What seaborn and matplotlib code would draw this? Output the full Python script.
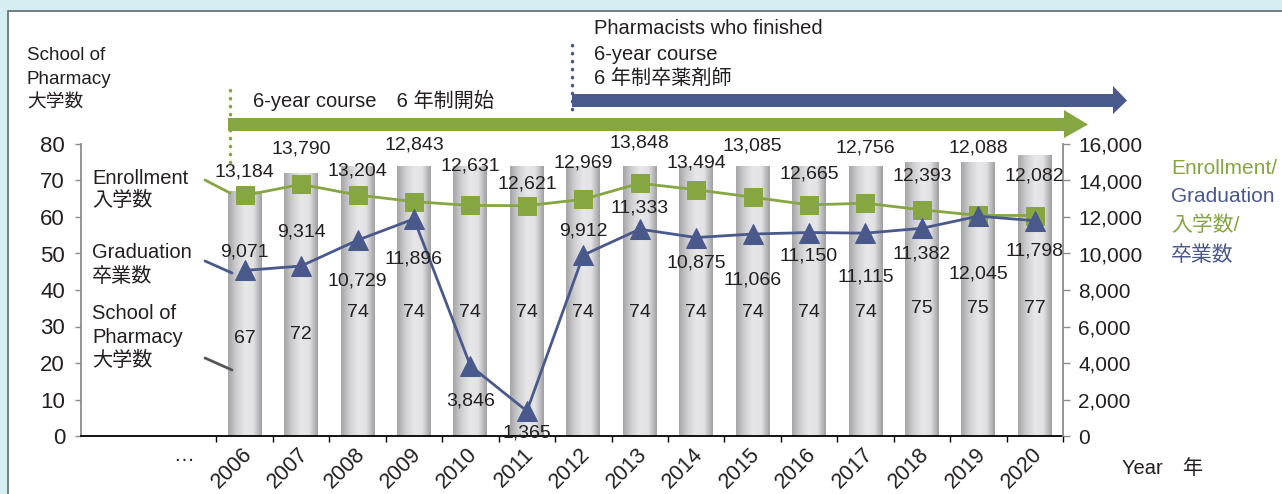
import matplotlib
matplotlib.use("Agg")
import matplotlib.pyplot as plt
import numpy as np
import pandas as pd
import seaborn as sns
from matplotlib.colors import LinearSegmentedColormap
from matplotlib.lines import Line2D
from matplotlib.patches import Polygon, Rectangle
from matplotlib.ticker import FuncFormatter
from matplotlib.transforms import ScaledTranslation

years = [str(y) for y in range(2006, 2021)]
schools = [67, 72, 74, 74, 74, 74, 74, 74, 74, 74, 74, 74, 75, 75, 77]
enrollment = [13184, 13790, 13204, 12843, 12631, 12621, 12969, 13848,
              13494, 13085, 12665, 12756, 12393, 12088, 12082]
graduation = [9071, 9314, 10729, 11896, 3846, 1365, 9912, 11333,
              10875, 11066, 11150, 11115, 11382, 12045, 11798]

# label placement: pixel offsets from the marker (up is positive)
enr_dy = [23, 35, 24, 57, 39, 22, 36, 40, 27, 51, 31, 55, 34, 67, 40]
grad_dy = [18, 34, -41, -40, -35, -22, 24, 21, -25, -46, -23, -44, -26, -58, -30]
school_label_y = [26.8, 27.9] + [33.7] * 10 + [34.8] * 3

GREEN = "#86a642"
BLUE = "#4a598c"
TXT = "#231f20"
GREY = "#8c8c8c"
W, H = 1282, 494


def fx(px):
    return px / W


def fy(py):
    return 1 - py / H


def put(text, x, y, **kw):
    kw.setdefault("fontsize", 14.5)
    kw.setdefault("color", TXT)
    kw.setdefault("va", "center")
    fig.text(fx(x), fy(y), text, **kw)


sns.set_theme(style="ticks")
plt.rcParams["font.family"] = ["Liberation Sans", "Noto Sans CJK JP"]

fig = plt.figure(figsize=(W / 100, H / 100), dpi=100, facecolor="#d4eef2")
fig.add_artist(Rectangle((fx(8), -0.01), 1, fy(11) + 0.01, transform=fig.transFigure,
                         facecolor="white", edgecolor="#5f6b6b", lw=1.2, zorder=0))

ax = fig.add_axes([fx(81), fy(436), fx(1063) - fx(81), fy(144) - fy(436)])
ax.patch.set_alpha(0)

df = pd.DataFrame({"year": years, "schools": schools,
                   "enrollment": enrollment, "graduation": graduation})
idx = np.arange(len(years))

# bars with a cylinder-like grey gradient
sns.barplot(data=df, x="year", y="schools", width=0.6, color="#dcdcde", ax=ax, zorder=2)
cyl = LinearSegmentedColormap.from_list(
    "cyl", ["#a6a6a9", "#cfcfd1", "#e7e7e9", "#e2e2e4", "#a0a0a4"])
grad = np.linspace(0, 1, 64).reshape(1, -1)
for p in ax.patches:
    x0, w, h = p.get_x(), p.get_width(), p.get_height()
    im = ax.imshow(grad, extent=[x0, x0 + w, 0, h], aspect="auto", cmap=cyl,
                   zorder=2, interpolation="bicubic")
    im.set_clip_path(p)
    p.set_facecolor("none")
    p.set_edgecolor("none")

for i, (v, yl) in enumerate(zip(schools, school_label_y)):
    ax.text(i, yl, str(v), ha="center", va="center", fontsize=14, color=TXT, zorder=5)

ax.set_xlim(-2.9, 14.5)
ax.set_ylim(0, 80)
ax.set_yticks(range(0, 81, 10))
ax.set_xticks(idx)
ax.set_xticklabels(years, rotation=45, ha="right", va="center", rotation_mode="anchor")
ax.set_xticks(np.arange(-0.5, 14.6, 1), minor=True)
ax.tick_params(axis="x", which="major", length=0, pad=11, labelsize=15.5, labelcolor=TXT)
ax.tick_params(axis="x", which="minor", length=4.5, width=1, color="black", direction="out")
ax.tick_params(axis="y", length=4.5, width=1, color=GREY, labelsize=16, labelcolor=TXT, pad=7)
shift = ScaledTranslation(4 / 100, 0, fig.dpi_scale_trans)
for lab in ax.get_xticklabels():
    lab.set_transform(lab.get_transform() + shift)
ax.set_xlabel("")
ax.set_ylabel("")
for s in ["top", "right"]:
    ax.spines[s].set_visible(False)
ax.spines["left"].set_color(GREY)
ax.spines["left"].set_linewidth(1.3)
ax.spines["bottom"].set_color("black")
ax.spines["bottom"].set_linewidth(1.3)

# lines on the right axis
ax2 = ax.twinx()
sns.lineplot(x=idx, y=enrollment, ax=ax2, color=GREEN, lw=2, marker="s",
             markersize=13, markeredgecolor=GREEN, zorder=4)
sns.lineplot(x=idx, y=graduation, ax=ax2, color=BLUE, lw=2, marker="^",
             markersize=15, markeredgecolor=BLUE, zorder=4)
for i, (v, dy) in enumerate(zip(enrollment, enr_dy)):
    ax2.annotate(f"{v:,}", (i, v), xytext=(0, dy), textcoords="offset pixels",
                 ha="center", va="center", fontsize=14, color=TXT, zorder=6)
for i, (v, dy) in enumerate(zip(graduation, grad_dy)):
    ax2.annotate(f"{v:,}", (i, v), xytext=(0, dy), textcoords="offset pixels",
                 ha="center", va="center", fontsize=14, color=TXT, zorder=6)
ax2.set_xlim(-2.9, 14.5)
ax2.set_ylim(0, 16000)
ax2.set_yticks(range(0, 16001, 2000))
ax2.yaxis.set_major_formatter(FuncFormatter(lambda v, p: f"{int(v):,}"))
ax2.tick_params(axis="y", length=5, width=1, color=GREY, labelsize=15, labelcolor=TXT, pad=6)
ax2.set_ylabel("")
for s in ["top", "left", "bottom"]:
    ax2.spines[s].set_visible(False)
ax2.spines["right"].set_color(GREY)
ax2.spines["right"].set_linewidth(1.3)

# arrows across the top
green_arrow = [(228, 118), (1064, 118), (1064, 110), (1088, 124.5),
               (1064, 138), (1064, 131), (228, 131)]
blue_arrow = [(572, 94), (1113, 94), (1113, 86), (1127, 100.5),
              (1113, 114), (1113, 107), (572, 107)]
for pts, col in [(green_arrow, GREEN), (blue_arrow, BLUE)]:
    fig.add_artist(Polygon([(fx(x), fy(y)) for x, y in pts], closed=True,
                           transform=fig.transFigure, facecolor=col, edgecolor="none"))

for x, y0, y1, col in [(230, 90, 162, GREEN), (572, 45, 116, BLUE)]:
    fig.add_artist(Line2D([fx(x), fx(x)], [fy(y0), fy(y1)], color=col, lw=2.5,
                          linestyle=(0, (0.1, 2.2)), dash_capstyle="round"))

# connector strokes from the inline labels
for (x0, y0, x1, y1), col in [((205, 180, 230, 193), GREEN),
                              ((205, 261, 232, 273), BLUE),
                              ((205, 358, 232, 370), "#555555")]:
    fig.add_artist(Line2D([fx(x0), fx(x1)], [fy(y0), fy(y1)], color=col, lw=2))

# texts
put("School of", 27, 55, fontsize=13.5)
put("Pharmacy", 27, 80, fontsize=13.5)
put("大学数", 27, 103, fontsize=13.5)
put("6-year course\u30006 年制開始", 253, 100)
put("Pharmacists who finished", 594, 29)
put("6-year course", 594, 54)
put("6 年制卒薬剤師", 594, 78)
put("Enrollment", 92, 178)
put("入学数", 92, 201)
put("Graduation", 92, 253)
put("卒業数", 92, 277)
put("School of", 92, 313)
put("Pharmacy", 92, 337)
put("大学数", 92, 360)
put("Enrollment/", 1171, 168, color=GREEN, fontsize=15)
put("Graduation", 1171, 196, color=BLUE, fontsize=15)
put("入学数/", 1171, 225, color=GREEN, fontsize=15)
put("卒業数", 1171, 255, color=BLUE, fontsize=15)
put("Year\u3000年", 1122, 468)
put("…", 184, 461, va="baseline", ha="center", fontsize=15)

fig.savefig("out.png", dpi=100, facecolor=fig.get_facecolor())
